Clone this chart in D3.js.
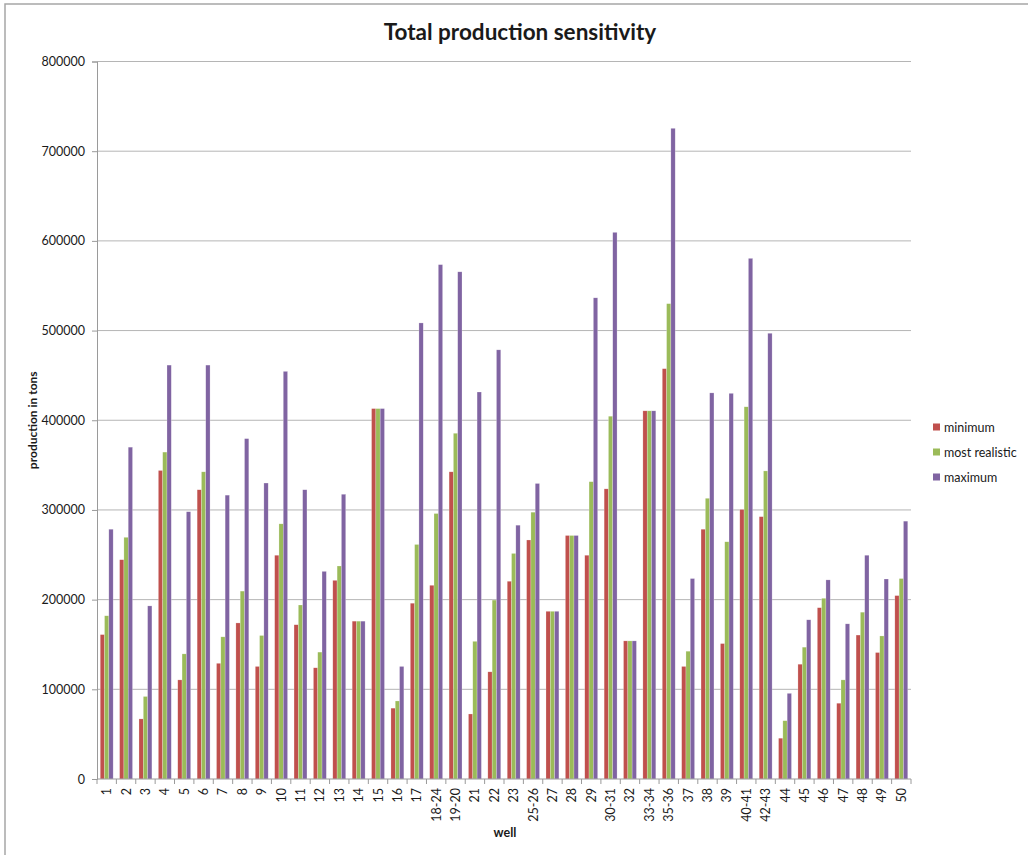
<!DOCTYPE html>
<html>
<head>
<meta charset="utf-8">
<script src="https://cdn.jsdelivr.net/npm/d3@7"></script>
<style>
  html, body { margin: 0; padding: 0; background: #fff; }
  svg { display: block; }
  text { font-family: Lato, "Open Sans", sans-serif; fill: #1a1a1a; }
</style>
</head>
<body>
<script>
// Well identifiers along the horizontal axis
const wells = ["1","2","3","4","5","6","7","8","9","10","11","12","13","14","15","16","17",
  "18-24","19-20","21","22","23","25-26","27","28","29","30-31","32","33-34","35-36",
  "37","38","39","40-41","42-43","44","45","46","47","48","49","50"];

// Production estimates in tons per well
const minimum = [161000,244500,67000,344000,110500,322500,129000,174000,125500,249500,172000,124000,221500,
  176000,413000,79000,196000,216000,342500,72500,119500,220500,266500,187000,271500,249500,323500,154000,410500,457500,
  125500,278500,151000,300500,292500,45500,128000,191000,84500,160500,141000,204500];
const mostRealistic = [182000,269500,92000,364500,139500,342500,158500,209500,160000,284500,194000,141500,237500,
  176000,413000,87000,261500,296000,385500,153500,199500,251500,297500,187000,271500,331500,404500,154000,410500,530000,
  142500,313000,264500,415000,343500,65000,147000,201500,110500,186000,159500,223500];
const maximum = [278500,370000,193000,461500,298000,461500,316500,379500,330000,454500,322500,231500,317500,
  176000,413000,125500,508500,573500,565500,431500,478500,283000,329500,187000,271500,536500,609500,154000,410500,725500,
  223500,430500,430000,580500,497000,95500,177500,222000,173000,249500,223000,287500];

const seriesNames = ["minimum", "most realistic", "maximum"];
const seriesValues = [minimum, mostRealistic, maximum];
const seriesColors = ["#C0504D", "#9BBB59", "#8064A2"];
const yTicks = [0,100000,200000,300000,400000,500000,600000,700000,800000];

const W = 1028, H = 855;
const plot = { left: 97, right: 911, top: 61.5, bottom: 779 };

const svg = d3.select("body").append("svg").attr("width", W).attr("height", H);

// chart frame
svg.append("rect").attr("x", 5).attr("y", 4).attr("width", W + 10).attr("height", H + 10)
  .attr("fill", "#fff").attr("stroke", "#a6a6a6").attr("stroke-width", 1.5);

const x0 = d3.scaleBand().domain(wells).range([plot.left, plot.right]).paddingInner(0).paddingOuter(0);
const x1 = d3.scaleBand().domain(seriesNames).range([0, x0.bandwidth()]).paddingInner(0).paddingOuter(0.75);
const y = d3.scaleLinear().domain([0, 800000]).range([plot.bottom, plot.top]);

// horizontal gridlines
svg.append("g").selectAll("line").data(yTicks.slice(1)).join("line")
  .attr("x1", plot.left).attr("x2", plot.right)
  .attr("y1", d => y(d)).attr("y2", d => y(d))
  .attr("stroke", "#b5b5b5").attr("stroke-width", 1);

// bars
const rows = wells.map((w, i) => ({ well: w, vals: seriesValues.map((s, k) => ({ name: seriesNames[k], value: s[i], color: seriesColors[k] })) }));
svg.append("g").selectAll("g").data(rows).join("g")
  .attr("transform", d => `translate(${x0(d.well)},0)`)
  .selectAll("rect").data(d => d.vals).join("rect")
  .attr("x", d => x1(d.name))
  .attr("width", x1.bandwidth())
  .attr("y", d => y(d.value))
  .attr("height", d => y(0) - y(d.value))
  .attr("fill", d => d.color)
  .attr("stroke", "rgba(255,255,255,0.45)").attr("stroke-width", 0.5);

// y axis
const yAxis = svg.append("g").attr("transform", `translate(${plot.left},0)`)
  .call(d3.axisLeft(y).tickValues(yTicks).tickFormat(d3.format("d")).tickSize(5).tickPadding(7));
yAxis.select(".domain").attr("stroke", "#9a9a9a");
yAxis.selectAll(".tick line").attr("stroke", "#9a9a9a");
yAxis.selectAll(".tick text").attr("font-size", 12.5).attr("fill", "#1a1a1a").attr("font-family", "Lato, sans-serif");

// x axis with ticks on category boundaries
const xAxisG = svg.append("g").attr("transform", `translate(0,${plot.bottom})`);
xAxisG.append("line").attr("x1", plot.left).attr("x2", plot.right).attr("y1", 0).attr("y2", 0).attr("stroke", "#9a9a9a");
const boundaries = wells.map(w => x0(w)).concat([plot.right]);
xAxisG.selectAll("line.tk").data(boundaries).join("line").attr("class", "tk")
  .attr("x1", d => d).attr("x2", d => d).attr("y1", 0).attr("y2", 5).attr("stroke", "#9a9a9a");
xAxisG.selectAll("text").data(wells).join("text")
  .attr("transform", d => `translate(${x0(d) + x0.bandwidth() / 2 + 4.5},9) rotate(-90)`)
  .attr("text-anchor", "end")
  .attr("font-size", 12.5)
  .text(d => d);

// titles
svg.append("text").attr("x", 520).attr("y", 40).attr("text-anchor", "middle")
  .attr("font-size", 22.5).attr("font-weight", "bold").attr("fill", "#000")
  .text("Total production sensitivity");
svg.append("text").attr("x", 505).attr("y", 837).attr("text-anchor", "middle")
  .attr("font-size", 12.5).attr("font-weight", "bold").attr("fill", "#000").text("well");
svg.append("text").attr("transform", `translate(37,${(plot.top + plot.bottom) / 2}) rotate(-90)`)
  .attr("text-anchor", "middle").attr("font-size", 12).attr("font-weight", "bold").attr("fill", "#000")
  .text("production in tons");

// legend
const legend = svg.append("g").selectAll("g").data(seriesNames).join("g")
  .attr("transform", (d, i) => `translate(933,${427 + i * 25})`);
legend.append("rect").attr("x", 0).attr("y", -3.5).attr("width", 7).attr("height", 7)
  .attr("fill", (d, i) => seriesColors[i]);
legend.append("text").attr("x", 11).attr("y", 4.5).attr("font-size", 12.5).text(d => d);
</script>
</body>
</html>
